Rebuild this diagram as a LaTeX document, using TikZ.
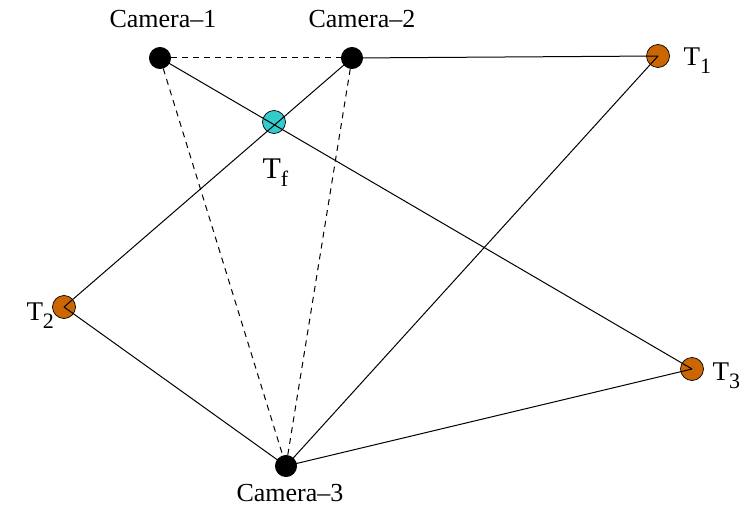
\documentclass[tikz,border=0pt]{standalone}
\usepackage{fontspec}
\setmainfont{Liberation Serif}
\definecolor{tbrown}{RGB}{204,102,0}
\definecolor{tcyan}{RGB}{51,204,204}
\newcommand{\tsub}[2]{#1\raisebox{-8pt}{\fontsize{22}{24}\selectfont #2}}

\begin{document}
\begin{tikzpicture}[x=1pt, y=-1pt, line width=1pt,
  cam/.style={circle, fill=black, draw=black, minimum size=21pt, inner sep=0pt},
  tgt/.style={circle, fill=#1, draw=black, line width=0.7pt, minimum size=23pt, inner sep=0pt},
  camlbl/.style={anchor=base, inner sep=0pt, font=\fontsize{26}{29}\selectfont},
  tlbl/.style={anchor=base west, inner sep=0pt, font=\fontsize{27}{30}\selectfont}]
  \useasboundingbox (0,0) rectangle (744,508);

  % cameras and targets
  \node[cam] (cam1) at (160,58) {};
  \node[cam] (cam2) at (352,58) {};
  \node[cam] (cam3) at (286,466) {};
  \node[tgt=tbrown] (t1) at (658,56) {};
  \node[tgt=tbrown] (t2) at (64,307) {};
  \node[tgt=tbrown] (t3) at (692,369) {};
  \node[tgt=tcyan] (tf) at (274,122) {};

  % labels
  \node[camlbl] (lcam1) at (163,28) {Camera–1};
  \node[camlbl] (lcam2) at (362,28) {Camera–2};
  \node[camlbl] (lcam3) at (290,501) {Camera–3};
  \node[tlbl] (lt1) at (683,66) {\tsub{T}{1}};
  \node[tlbl] (lt2) at (26,320) {\tsub{T}{2}};
  \node[tlbl] (lt3) at (712,380) {\tsub{T}{3}};
  \node[tlbl, font=\fontsize{30}{32}\selectfont] (ltf) at (262,178) {\tsub{T}{f}};

  % sight lines
  \draw[dashed, dash pattern=on 6pt off 5pt] (cam1.center) -- (cam2.center);
  \draw[dashed, dash pattern=on 6pt off 5pt] (cam1.center) -- (cam3.center);
  \draw[dashed, dash pattern=on 6pt off 5pt] (cam2.center) -- (cam3.center);
  \draw (cam2.center) -- (t1.center);
  \draw (cam1.center) -- (t3.center);
  \draw (cam2.center) -- (t2.center);
  \draw (t2.center) -- (cam3.center);
  \draw (cam3.center) -- (t1.center);
  \draw (cam3.center) -- (t3.center);
\end{tikzpicture}
\end{document}
